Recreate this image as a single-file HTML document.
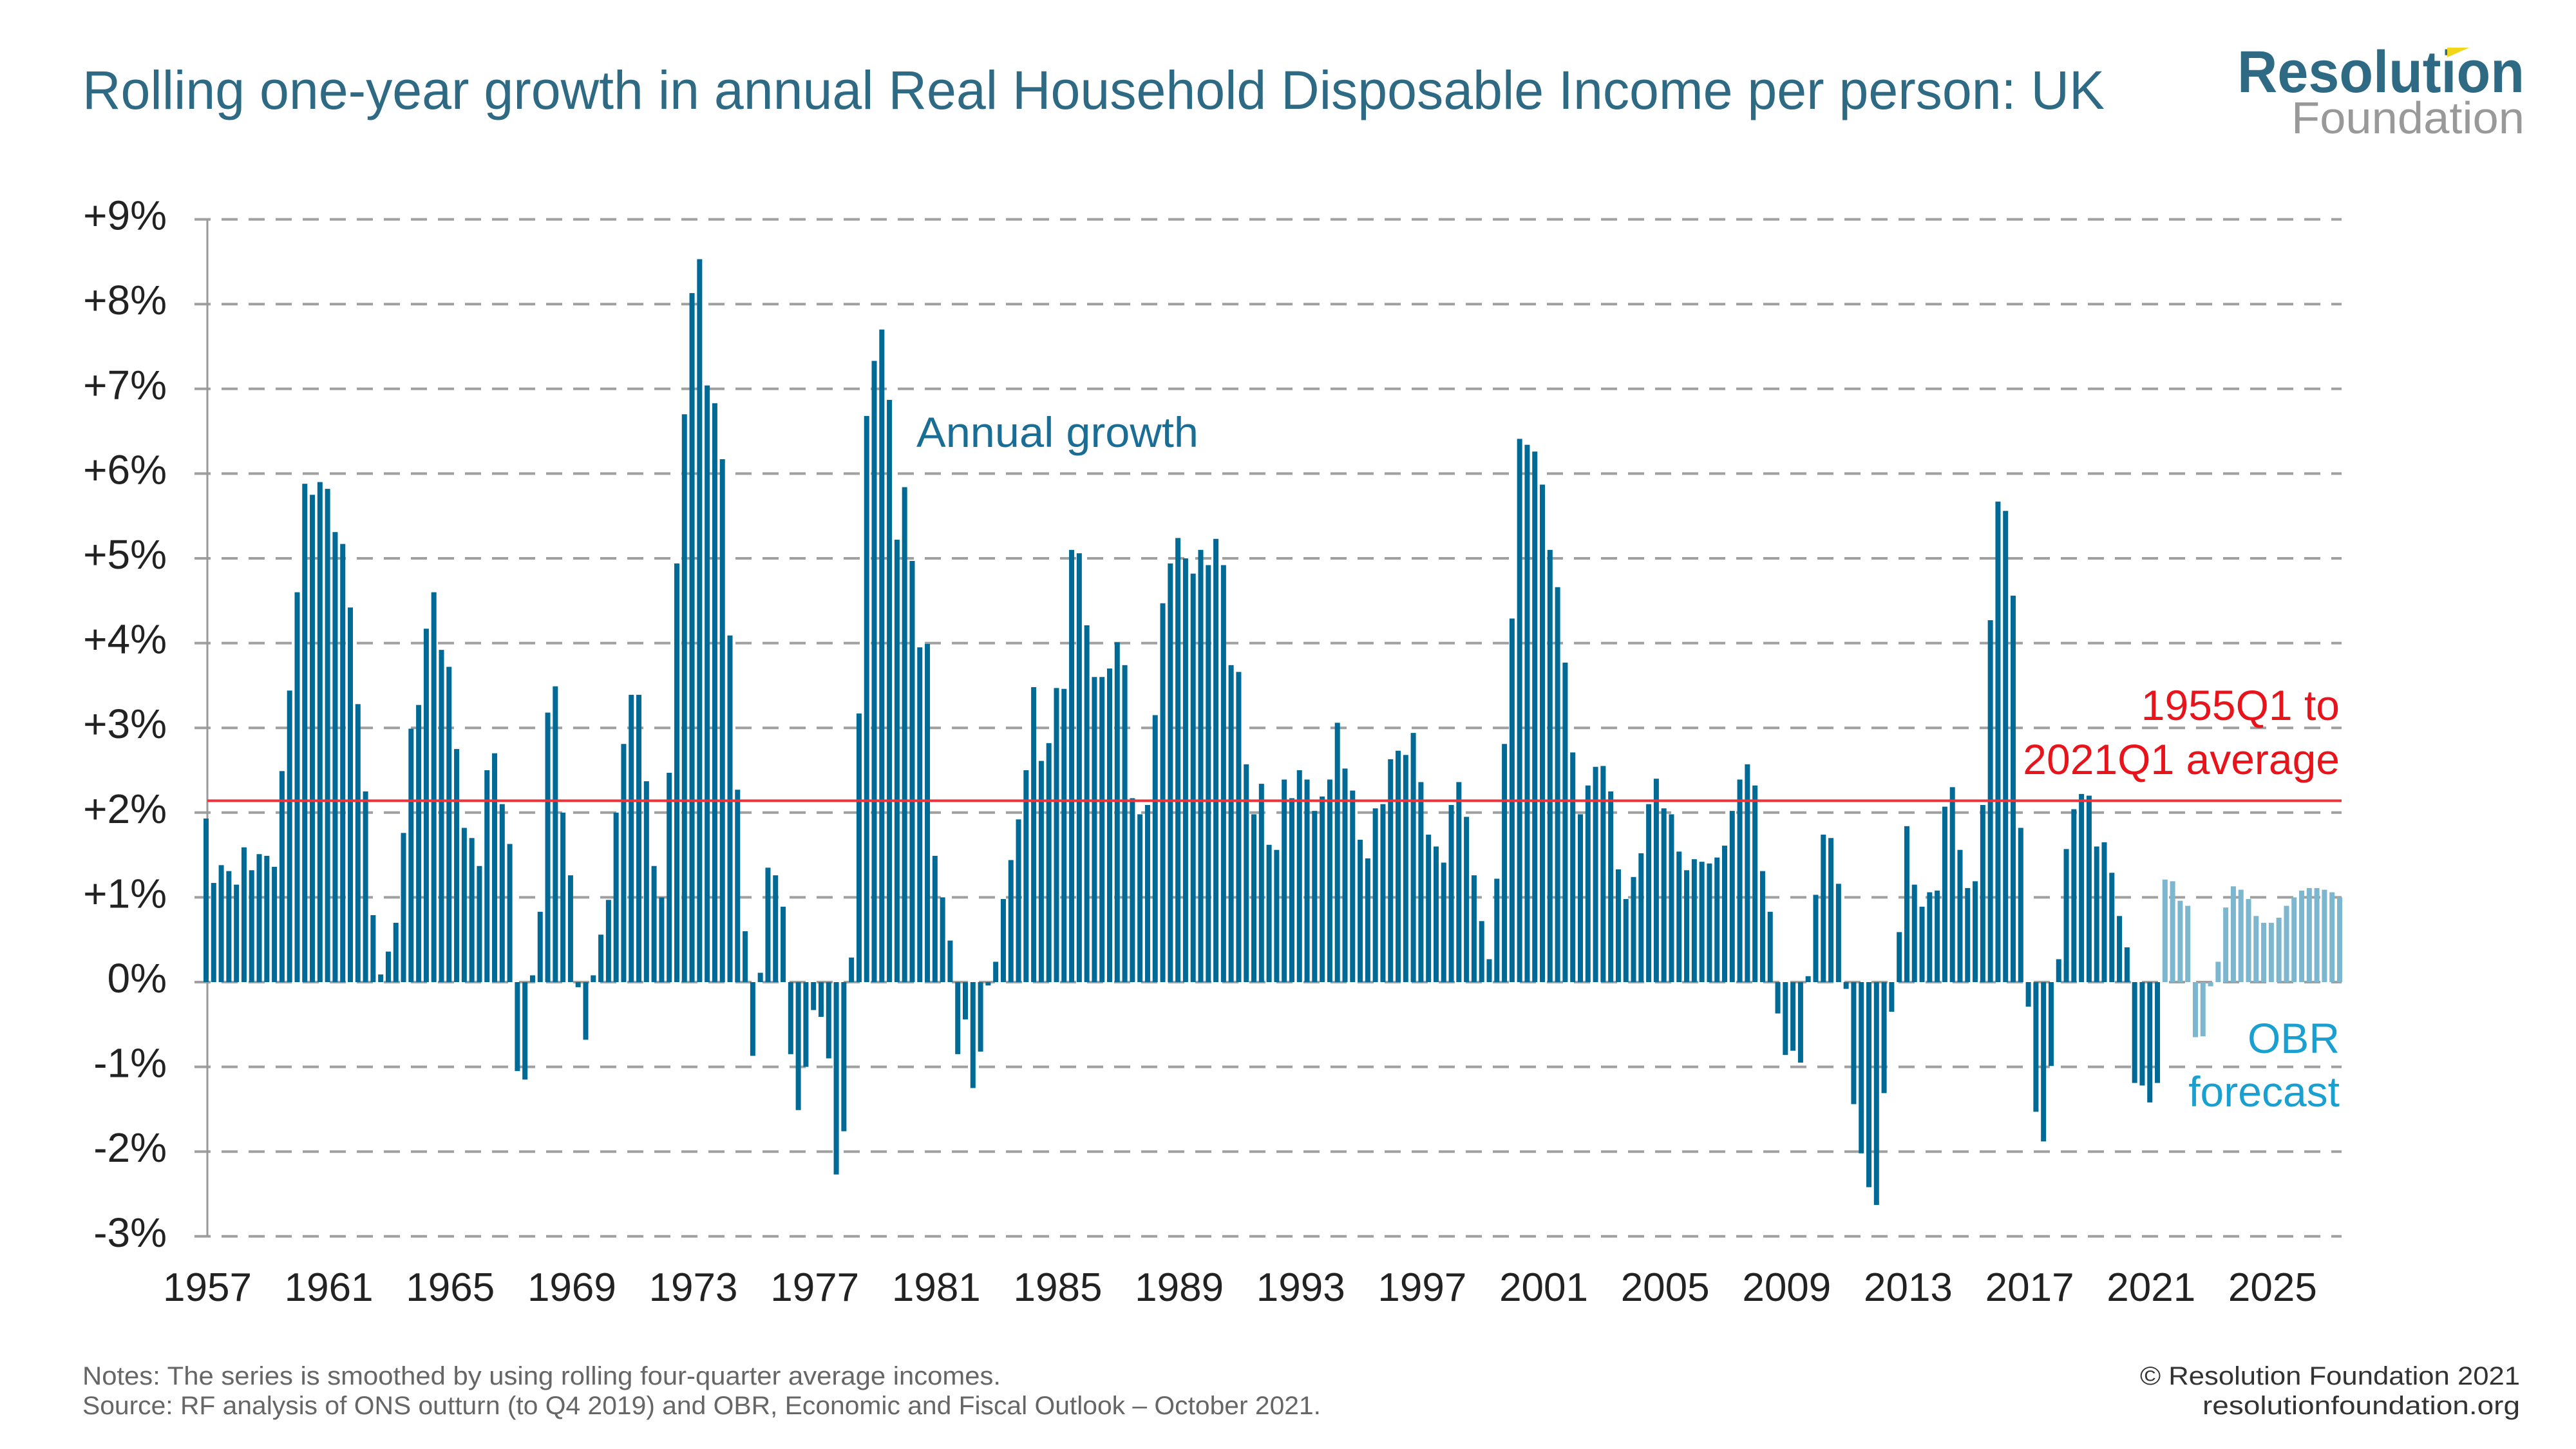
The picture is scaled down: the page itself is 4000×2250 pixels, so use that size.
<!DOCTYPE html>
<html><head><meta charset="utf-8">
<style>
html,body{margin:0;padding:0;background:#fff;}
svg{display:block;}
text{font-family:"Liberation Sans",sans-serif;}
</style></head>
<body>
<svg id="chart" width="4000" height="2250" viewBox="0 0 4000 2250" xmlns="http://www.w3.org/2000/svg">
<rect x="0" y="0" width="4000" height="2250" fill="#fff"/>
<text x="128" y="169" font-size="84" fill="#2e6a84" textLength="3140" lengthAdjust="spacingAndGlyphs">Rolling one-year growth in annual Real Household Disposable Income per person: UK</text>
<g>
<text x="3474" y="143" font-size="92" font-weight="bold" fill="#2e6a84" textLength="446" lengthAdjust="spacingAndGlyphs">Resolution</text>
<polygon points="3800,74 3834,74 3800,89" fill="#f2d61c"/>
<text x="3558" y="207" font-size="70" fill="#999" textLength="362" lengthAdjust="spacingAndGlyphs">Foundation</text>
</g>
<g id="grid"></g>
<g id="yaxis"></g>
<g id="bars"></g>
<g id="xaxis"></g>
<g id="avg"></g>
<text x="1423" y="694" font-size="66" fill="#1a6e96" textLength="438" lengthAdjust="spacingAndGlyphs">Annual growth</text>
<text x="3633" y="1118" font-size="66" fill="#e8141c" text-anchor="end">1955Q1 to</text>
<text x="3633" y="1202" font-size="66" fill="#e8141c" text-anchor="end">2021Q1 average</text>
<text x="3633" y="1635" font-size="66" fill="#1aa0d0" text-anchor="end">OBR</text>
<text x="3633" y="1718" font-size="66" fill="#1aa0d0" text-anchor="end">forecast</text>
<text x="128" y="2150" font-size="40" fill="#666" textLength="1426" lengthAdjust="spacingAndGlyphs">Notes: The series is smoothed by using rolling four-quarter average incomes.</text>
<text x="128" y="2196" font-size="40" fill="#666" textLength="1923" lengthAdjust="spacingAndGlyphs">Source: RF analysis of ONS outturn (to Q4 2019) and OBR, Economic and Fiscal Outlook – October 2021.</text>
<text x="3913" y="2150" font-size="40" fill="#333" text-anchor="end" textLength="590" lengthAdjust="spacingAndGlyphs">© Resolution Foundation 2021</text>
<text x="3913" y="2196" font-size="40" fill="#333" text-anchor="end" textLength="493" lengthAdjust="spacingAndGlyphs">resolutionfoundation.org</text>
</svg>
<script>
const startYear = 1957;
const actualValues = [
1.93,1.17,1.38,1.31,1.15,1.59,1.32,1.51,1.49,1.36,2.49,3.44,4.6,5.88,5.75,5.9,5.82,5.31,5.17,4.42,
3.28,2.25,0.79,0.09,0.36,0.7,1.76,2.99,3.27,4.17,4.6,3.92,3.72,2.75,1.82,1.7,1.37,2.5,2.7,2.1,
1.63,-1.05,-1.15,0.08,0.83,3.18,3.49,2.0,1.26,-0.06,-0.68,0.08,0.56,0.97,2.0,2.81,3.39,3.39,2.37,1.37,
1.0,2.47,4.94,6.7,8.13,8.53,7.04,6.83,6.17,4.09,2.27,0.6,-0.87,0.11,1.35,1.26,0.89,-0.85,-1.51,-1.0,
-0.33,-0.41,-0.9,-2.27,-1.76,0.29,3.17,6.68,7.33,7.7,6.87,5.22,5.84,4.97,3.95,3.99,1.49,1.0,0.49,-0.85,
-0.44,-1.25,-0.82,-0.04,0.24,0.98,1.44,1.92,2.5,3.48,2.61,2.82,3.47,3.46,5.1,5.06,4.21,3.6,3.6,
3.7,4.01,3.74,2.17,1.98,2.09,3.15,4.47,4.94,5.24,5.0,4.82,5.1,4.92,5.23,4.92,3.74,3.66,2.57,1.98,
2.34,1.62,1.56,2.39,2.17,2.5,2.39,2.02,2.19,2.39,3.06,2.52,2.26,1.68,1.46,2.05,2.1,2.63,2.73,2.68,
2.94,2.36,1.74,1.6,1.41,2.09,2.36,1.95,1.26,0.72,0.27,1.22,2.81,4.29,6.41,6.34,6.26,5.87,5.1,4.66,3.77,
2.71,1.98,2.32,2.54,2.55,2.25,1.33,0.98,1.24,1.52,2.1,2.4,2.05,1.98,1.54,1.32,1.45,1.42,1.4,1.47,
1.61,2.02,2.39,2.57,2.32,1.31,0.83,-0.37,-0.86,-0.81,-0.95,0.07,1.03,1.74,1.7,1.16,-0.08,-1.44,-2.02,-2.42,
-2.63,-1.31,-0.35,0.59,1.84,1.15,0.89,1.06,1.08,2.07,2.3,1.56,1.11,1.19,2.09,4.27,5.67,5.56,4.56,1.82,-0.29,
-1.53,-1.88,-0.99,0.27,1.57,2.04,2.22,2.2,1.6,1.65,1.29,0.78,0.41,-1.19,-1.22,-1.42,-1.19
];
const forecastValues = [
1.21,1.19,0.96,0.9,-0.65,-0.64,-0.05,0.24,0.88,1.13,1.09,0.98,0.78,0.7,0.7,0.76,0.9,1.0,1.08,1.11,1.11,1.09,1.06,1.0
];
const yTicks = [9,8,7,6,5,4,3,2,1,0,-1,-2,-3];
const yTickLabels = ["+9%","+8%","+7%","+6%","+5%","+4%","+3%","+2%","+1%","0%","-1%","-2%","-3%"];
const xTickYears = [1957,1961,1965,1969,1973,1977,1981,1985,1989,1993,1997,2001,2005,2009,2013,2017,2021,2025];
const averageValue = [2.14];

const NS = "http://www.w3.org/2000/svg";
const X0 = 320, STEP = 11.79, BARW = 8;
const Y0 = 1525, PER = 131.6;
const xScale = i => X0 + i * STEP;
const yScale = v => Y0 - v * PER;
const GX1 = 302, GX2 = 3636;
function mk(tag, attrs, parent){ const e=document.createElementNS(NS,tag); for(const k in attrs) e.setAttribute(k,attrs[k]); parent.appendChild(e); return e; }

const grid = document.getElementById('grid');
const yaxis = document.getElementById('yaxis');
yTicks.forEach((t, k) => {
  const y = yScale(t);
  const ln = mk('line',{x1:GX1,x2:GX2,y1:y,y2:y,stroke:'#a0a0a0','stroke-width':4,'stroke-dasharray':'25 17'},grid);
  
  
  const lb = mk('text',{x:259,y:y+16,'font-size':64,fill:'#222','text-anchor':'end'},yaxis);
  lb.textContent = yTickLabels[k];
  
  
});
const axl = mk('line',{x1:322,x2:322,y1:yScale(9),y2:yScale(-3),stroke:'#999','stroke-width':3},yaxis);



const bars = document.getElementById('bars');
function drawBar(i, v, color){
  const y1 = yScale(Math.max(v,0)), y2 = yScale(Math.min(v,0));
  const r = mk('rect',{x:xScale(i)-BARW/2,y:y1,width:BARW,height:Math.max(y2-y1,1.5),fill:color},bars);
  
  
}
actualValues.forEach((v,i)=>drawBar(i,v,'#006a96'));
forecastValues.forEach((v,j)=>drawBar(actualValues.length+j,v,'#7db6cf'));

const xaxis = document.getElementById('xaxis');
xTickYears.forEach(yr => {
  const i = (yr - startYear) * 4;
  const t = mk('text',{x:xScale(i)+2,y:2020,'font-size':62,fill:'#222','text-anchor':'middle'},xaxis);
  t.textContent = yr;
  
  
});

const avg = document.getElementById('avg');
const al = mk('line',{x1:322,x2:GX2,y1:yScale(averageValue[0]),y2:yScale(averageValue[0]),stroke:'#e8343a','stroke-width':4},avg);


</script>
</body></html>
